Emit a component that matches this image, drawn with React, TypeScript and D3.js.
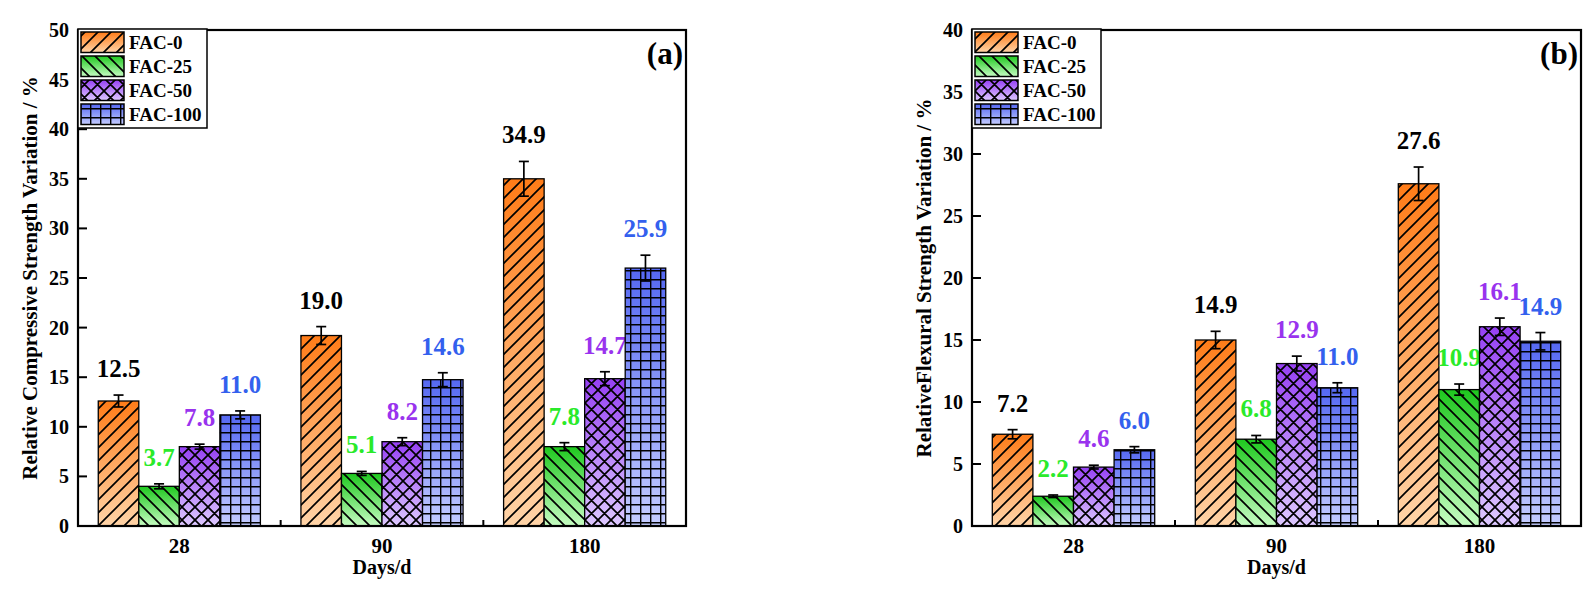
import * as d3 from "d3";

// categories
const days = ["28", "90", "180"];
const series = ["FAC-0", "FAC-25", "FAC-50", "FAC-100"];

// compressive strength variation (panel a): bar heights, error half-widths, printed labels
const compFac0 = [12.6, 19.2, 35.0];
const compFac25 = [4.0, 5.3, 8.0];
const compFac50 = [8.0, 8.5, 14.85];
const compFac100 = [11.2, 14.75, 26.0];
const compErr0 = [0.6, 0.9, 1.75];
const compErr25 = [0.25, 0.2, 0.4];
const compErr50 = [0.25, 0.4, 0.7];
const compErr100 = [0.4, 0.7, 1.3];
const compLbl0 = ["12.5", "19.0", "34.9"];
const compLbl25 = ["3.7", "5.1", "7.8"];
const compLbl50 = ["7.8", "8.2", "14.7"];
const compLbl100 = ["11.0", "14.6", "25.9"];

// flexural strength variation (panel b)
const flexFac0 = [7.4, 15.0, 27.6];
const flexFac25 = [2.4, 7.0, 11.0];
const flexFac50 = [4.75, 13.1, 16.07];
const flexFac100 = [6.15, 11.15, 14.9];
const flexErr0 = [0.37, 0.7, 1.35];
const flexErr25 = [0.1, 0.3, 0.45];
const flexErr50 = [0.15, 0.6, 0.7];
const flexErr100 = [0.25, 0.4, 0.7];
const flexLbl0 = ["7.2", "14.9", "27.6"];
const flexLbl25 = ["2.2", "6.8", "10.9"];
const flexLbl50 = ["4.6", "12.9", "16.1"];
const flexLbl100 = ["6.0", "11.0", "14.9"];

const compTicks = [0, 5, 10, 15, 20, 25, 30, 35, 40, 45, 50];
const flexTicks = [0, 5, 10, 15, 20, 25, 30, 35, 40];

const FONT = "'Liberation Serif', 'Times New Roman', serif";
const gradTop = ["#ff7c18", "#1ec81e", "#9640f4", "#5568f2"];
const gradBottom = ["#ffd4a8", "#c6fcc2", "#ddc8ff", "#c4ccff"];
const labelColor = ["#000000", "#2aea2a", "#9933ee", "#3360ee"];
const patternIds = ["hatch-fwd", "hatch-back", "hatch-cross", "hatch-grid"];

interface PanelProps {
  left: number;
  right: number;
  top: number;
  bottom: number;
  yMax: number;
  ticks: number[];
  values: number[][];
  errors: number[][];
  labels: string[][];
  title: string;
  titleX: number;
  tag: string;
}

function Defs() {
  return (
    <defs>
      {series.map((s, i) => (
        <linearGradient key={s} id={`grad-${i}`} x1="0" y1="0" x2="0" y2="1">
          <stop offset="0" stopColor={gradTop[i]} />
          <stop offset="1" stopColor={gradBottom[i]} />
        </linearGradient>
      ))}
      <pattern id="hatch-fwd" patternUnits="userSpaceOnUse" width={13} height={13}>
        <path d="M0,13 L13,0 M-3,3 L3,-3 M10,16 L16,10" stroke="#000" strokeWidth={1.7} />
      </pattern>
      <pattern id="hatch-back" patternUnits="userSpaceOnUse" width={13} height={13}>
        <path d="M0,0 L13,13 M-3,10 L3,16 M10,-3 L16,3" stroke="#000" strokeWidth={1.7} />
      </pattern>
      <pattern id="hatch-cross" patternUnits="userSpaceOnUse" width={13} height={13}>
        <path
          d="M0,13 L13,0 M-3,3 L3,-3 M10,16 L16,10 M0,0 L13,13 M-3,10 L3,16 M10,-3 L16,3"
          stroke="#000"
          strokeWidth={1.7}
        />
      </pattern>
      <pattern id="hatch-grid" patternUnits="userSpaceOnUse" width={10} height={9}>
        <path d="M0,0.6 L10,0.6 M0.6,0 L0.6,9" stroke="#000" strokeWidth={1.6} />
      </pattern>
    </defs>
  );
}

function Panel({
  left,
  right,
  top,
  bottom,
  yMax,
  ticks,
  values,
  errors,
  labels,
  title,
  titleX,
  tag,
}: PanelProps) {
  const x0 = d3.scaleBand<string>().domain(days).range([left, right]).paddingInner(0.2).paddingOuter(0.1);
  const x1 = d3.scaleBand<string>().domain(series).range([0, x0.bandwidth()]).padding(0);
  const y = d3.scaleLinear().domain([0, yMax]).range([bottom, top]);
  const step = (right - left) / days.length;

  return (
    <g fontFamily={FONT} fontWeight="bold">
      {/* bars */}
      {series.map((s, si) =>
        days.map((d, di) => {
          const bx = (x0(d) ?? 0) + (x1(s) ?? 0);
          const bw = x1.bandwidth();
          const v = values[si][di];
          const by = y(v);
          const bh = bottom - by;
          const cx = bx + bw / 2;
          const e = errors[si][di];
          return (
            <g key={`${s}-${d}`}>
              <rect x={bx} y={by} width={bw} height={bh} fill={`url(#grad-${si})`} />
              <rect x={bx} y={by} width={bw} height={bh} fill={`url(#${patternIds[si]})`} />
              <rect x={bx} y={by} width={bw} height={bh} fill="none" stroke="#000" strokeWidth={1.3} />
              <line x1={cx} x2={cx} y1={y(v + e)} y2={y(v - e)} stroke="#000" strokeWidth={1.7} />
              <line x1={cx - 5} x2={cx + 5} y1={y(v + e)} y2={y(v + e)} stroke="#000" strokeWidth={1.7} />
              <line x1={cx - 5} x2={cx + 5} y1={y(v - e)} y2={y(v - e)} stroke="#000" strokeWidth={1.7} />
              <text x={cx} y={y(v + e) - 18} textAnchor="middle" fontSize={25} fill={labelColor[si]}>
                {labels[si][di]}
              </text>
            </g>
          );
        })
      )}

      {/* frame */}
      <rect x={left} y={top} width={right - left} height={bottom - top} fill="none" stroke="#000" strokeWidth={2.2} />

      {/* y ticks */}
      {ticks.map((t) => (
        <g key={t}>
          <line x1={left} x2={left + 9} y1={y(t)} y2={y(t)} stroke="#000" strokeWidth={2} />
          <text x={left - 9} y={y(t)} dy="0.35em" textAnchor="end" fontSize={20}>
            {t}
          </text>
        </g>
      ))}

      {/* x ticks at group boundaries */}
      {d3.range(1, days.length).map((i) => (
        <line
          key={i}
          x1={left + step * i}
          x2={left + step * i}
          y1={bottom}
          y2={bottom - 6}
          stroke="#000"
          strokeWidth={2}
        />
      ))}
      {days.map((d) => (
        <text key={d} x={(x0(d) ?? 0) + x0.bandwidth() / 2} y={bottom + 27} textAnchor="middle" fontSize={21}>
          {d}
        </text>
      ))}
      <text x={(left + right) / 2} y={bottom + 48} textAnchor="middle" fontSize={20}>
        Days/d
      </text>

      {/* y title */}
      <text
        transform={`translate(${titleX},${(top + bottom) / 2}) rotate(-90)`}
        textAnchor="middle"
        fontSize={21}
      >
        {title}
      </text>

      {/* panel tag */}
      <text x={right - 3} y={top + 34} textAnchor="end" fontSize={31}>
        {tag}
      </text>

      {/* legend */}
      <rect x={left} y={top - 1} width={129} height={99} fill="#fff" stroke="#000" strokeWidth={1.5} />
      {series.map((s, si) => {
        const ly = top + 2 + si * 24;
        return (
          <g key={s}>
            <rect x={left + 3} y={ly} width={43} height={20.5} fill={`url(#grad-${si})`} />
            <rect x={left + 3} y={ly} width={43} height={20.5} fill={`url(#${patternIds[si]})`} />
            <rect x={left + 3} y={ly} width={43} height={20.5} fill="none" stroke="#000" strokeWidth={1.5} />
            <text x={left + 51} y={ly + 17} fontSize={19}>
              {s}
            </text>
          </g>
        );
      })}
    </g>
  );
}

export default function App() {
  return (
    <svg
      width={1596}
      height={594}
      style={{ position: "absolute", left: 0, top: 0, background: "#fff" }}
    >
      <Defs />
      <Panel
        left={78}
        right={686}
        top={30}
        bottom={526}
        yMax={50}
        ticks={compTicks}
        values={[compFac0, compFac25, compFac50, compFac100]}
        errors={[compErr0, compErr25, compErr50, compErr100]}
        labels={[compLbl0, compLbl25, compLbl50, compLbl100]}
        title="Relative Compressive Strength Variation / %"
        titleX={37}
        tag="(a)"
      />
      <Panel
        left={972}
        right={1581}
        top={30}
        bottom={526}
        yMax={40}
        ticks={flexTicks}
        values={[flexFac0, flexFac25, flexFac50, flexFac100]}
        errors={[flexErr0, flexErr25, flexErr50, flexErr100]}
        labels={[flexLbl0, flexLbl25, flexLbl50, flexLbl100]}
        title="RelativeFlexural Strength Variation / %"
        titleX={931}
        tag="(b)"
      />
    </svg>
  );
}
